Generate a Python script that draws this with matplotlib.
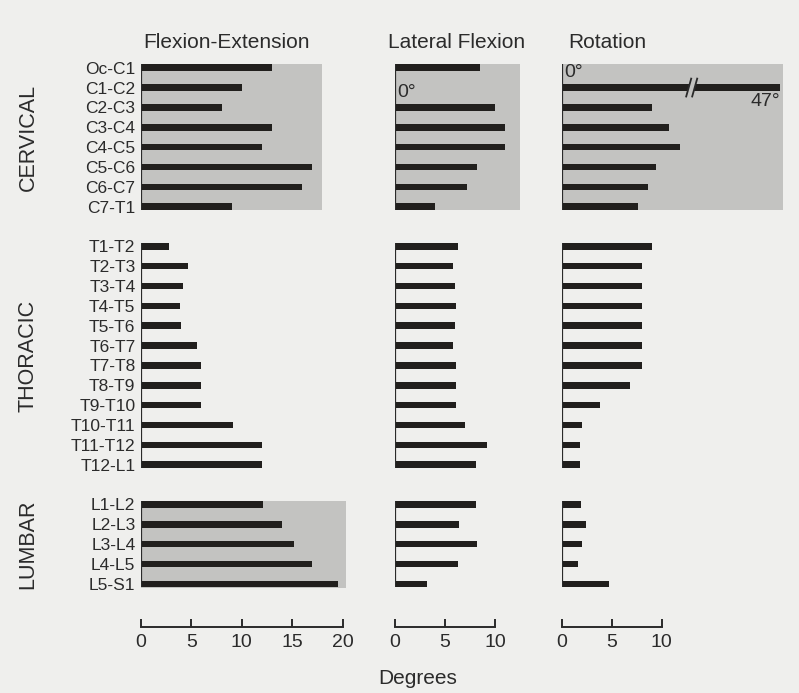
import matplotlib
matplotlib.use('Agg')
import matplotlib.pyplot as plt
import matplotlib.transforms as mtransforms
from matplotlib.patches import Rectangle, Polygon
import numpy as np

plt.rcParams['font.family'] = ['Liberation Sans', 'DejaVu Sans']

# -------------------------------------------------------------
# Data (degrees of motion per segment)
# -------------------------------------------------------------
groups = ['CERVICAL', 'THORACIC', 'LUMBAR']

cervical_levels = ['Oc-C1', 'C1-C2', 'C2-C3', 'C3-C4', 'C4-C5', 'C5-C6', 'C6-C7', 'C7-T1']
thoracic_levels = ['T1-T2', 'T2-T3', 'T3-T4', 'T4-T5', 'T5-T6', 'T6-T7', 'T7-T8', 'T8-T9',
                   'T9-T10', 'T10-T11', 'T11-T12', 'T12-L1']
lumbar_levels = ['L1-L2', 'L2-L3', 'L3-L4', 'L4-L5', 'L5-S1']

flex_cervical = [13, 10, 8, 13, 12, 17, 16, 9]
flex_thoracic = [2.8, 4.7, 4.2, 3.9, 4.0, 5.6, 6, 6, 6, 9.1, 12, 12]
flex_lumbar = [12.1, 14, 15.2, 17, 19.5]

lat_cervical = [8.5, 0, 10, 11, 11, 8.2, 7.2, 4]
lat_thoracic = [6.3, 5.8, 6.0, 6.1, 6.0, 5.8, 6.1, 6.1, 6.1, 7.0, 9.2, 8.1]
lat_lumbar = [8.1, 6.4, 8.2, 6.3, 3.2]

rot_cervical = [0, 47, 9, 10.7, 11.8, 9.4, 8.6, 7.6]
rot_thoracic = [9, 8, 8, 8, 8, 8, 8, 6.8, 3.8, 2, 1.8, 1.8]
rot_lumbar = [1.9, 2.4, 2.0, 1.6, 4.7]

columns = ['Flexion-Extension', 'Lateral Flexion', 'Rotation']
axis_max = [20, 10, 10]
xticks = [[0, 5, 10, 15, 20], [0, 5, 10], [0, 5, 10]]

levels = [cervical_levels, thoracic_levels, lumbar_levels]
values = [[flex_cervical, flex_thoracic, flex_lumbar],
          [lat_cervical, lat_thoracic, lat_lumbar],
          [rot_cervical, rot_thoracic, rot_lumbar]]

# shaded panels: (column, group) -> right edge in degrees
shaded = {(0, 0): 18, (1, 0): 12.5, (2, 0): 22.1, (0, 2): 20.3}

# -------------------------------------------------------------
# Layout
# -------------------------------------------------------------
W, H = 799, 693
bg = '#efefed'
bar_col = '#211f1d'
shade_col = '#c3c3c1'
txt_col = '#2b2b2b'

fig = plt.figure(figsize=(W / 100, H / 100), dpi=100, facecolor=bg)

# row positions, one blank row between groups
positions = []
y0 = 0
for lv in levels:
    positions.append(np.arange(len(lv)) + y0)
    y0 += len(lv) + 1

top_px, bot_px = 55, 626.7
ax_bottom = 1 - bot_px / H
ax_height = (bot_px - top_px) / H
ylim = (28.16, -0.64)

# (left px, px per degree, xmax)
col_geom = [(141, 10.08, 21), (395, 10.0, 13), (561.7, 10.0, 23)]
title_x = [143, 388, 568]

for ci, (left, ppd, xmax) in enumerate(col_geom):
    ax = fig.add_axes([left / W, ax_bottom, xmax * ppd / W, ax_height])
    ax.set_facecolor('none')
    ax.set_xlim(0, xmax)
    ax.set_ylim(*ylim)
    for s in ['left', 'top', 'right']:
        ax.spines[s].set_visible(False)
    ax.spines['bottom'].set_bounds(0, axis_max[ci])
    ax.spines['bottom'].set_linewidth(1.4)
    ax.spines['bottom'].set_color('#2a2a2a')
    ax.set_xticks(xticks[ci])
    ax.tick_params(axis='x', direction='in', length=6, width=1.4, color='#2a2a2a',
                   labelsize=14, labelcolor=txt_col, pad=5)

    for gi in range(len(groups)):
        pos = positions[gi]
        vals = np.array(values[ci][gi], dtype=float)
        box = shaded.get((ci, gi))
        if box is not None:
            ax.add_patch(Rectangle((0, pos[0] - 0.19), box, pos[-1] - pos[0] + 0.38,
                                   facecolor=shade_col, edgecolor='none', zorder=0))
        limit = (box - 0.3) if box is not None else xmax
        shown = np.minimum(vals, limit)
        ax.barh(pos, shown, height=0.33, color=bar_col, zorder=2)
        ax.vlines(0, pos[0] - 0.18, pos[-1] + 0.18, color='#2a2a2a', lw=1.6, zorder=3)

        for p, v, sv in zip(pos, vals, shown):
            if v == 0:
                ax.text(0.25, p + 0.25, '0°', fontsize=14, color=txt_col,
                        va='center', ha='left', zorder=4)
            elif v > sv:
                # broken bar
                bx = 13.0
                ax.add_patch(Polygon([[bx - 0.55, p + 0.45], [bx + 0.05, p + 0.45],
                                      [bx + 0.55, p - 0.45], [bx - 0.05, p - 0.45]],
                                     closed=True, facecolor=shade_col, edgecolor='none', zorder=3))
                ax.plot([bx - 0.55, bx - 0.05], [p + 0.45, p - 0.45], color='#2a2a2a', lw=1.3, zorder=4)
                ax.plot([bx + 0.05, bx + 0.55], [p + 0.45, p - 0.45], color='#2a2a2a', lw=1.3, zorder=4)
                ax.text(sv, p + 0.72, f'{v:g}°', fontsize=14, color=txt_col,
                        va='center', ha='right', zorder=4)

    if ci == 0:
        allpos = np.concatenate(positions)
        alllab = sum(levels, [])
        ax.set_yticks(allpos)
        ax.set_yticklabels(alllab)
        ax.tick_params(axis='y', length=0, pad=4, labelsize=12.5, labelcolor=txt_col)
        trans = mtransforms.blended_transform_factory(fig.transFigure, ax.transData)
        for gi, g in enumerate(groups):
            ax.text(28 / W, positions[gi].mean(), g, transform=trans, rotation=90,
                    fontsize=15.5, color=txt_col, ha='center', va='center')
    else:
        ax.set_yticks([])

    fig.text(title_x[ci] / W, 1 - 42 / H, columns[ci], fontsize=15, color=txt_col,
             ha='left', va='center')

fig.text(418 / W, 1 - 679 / H, 'Degrees', fontsize=15, color=txt_col, ha='center', va='center')

fig.savefig('out.png', dpi=100, facecolor=bg)
